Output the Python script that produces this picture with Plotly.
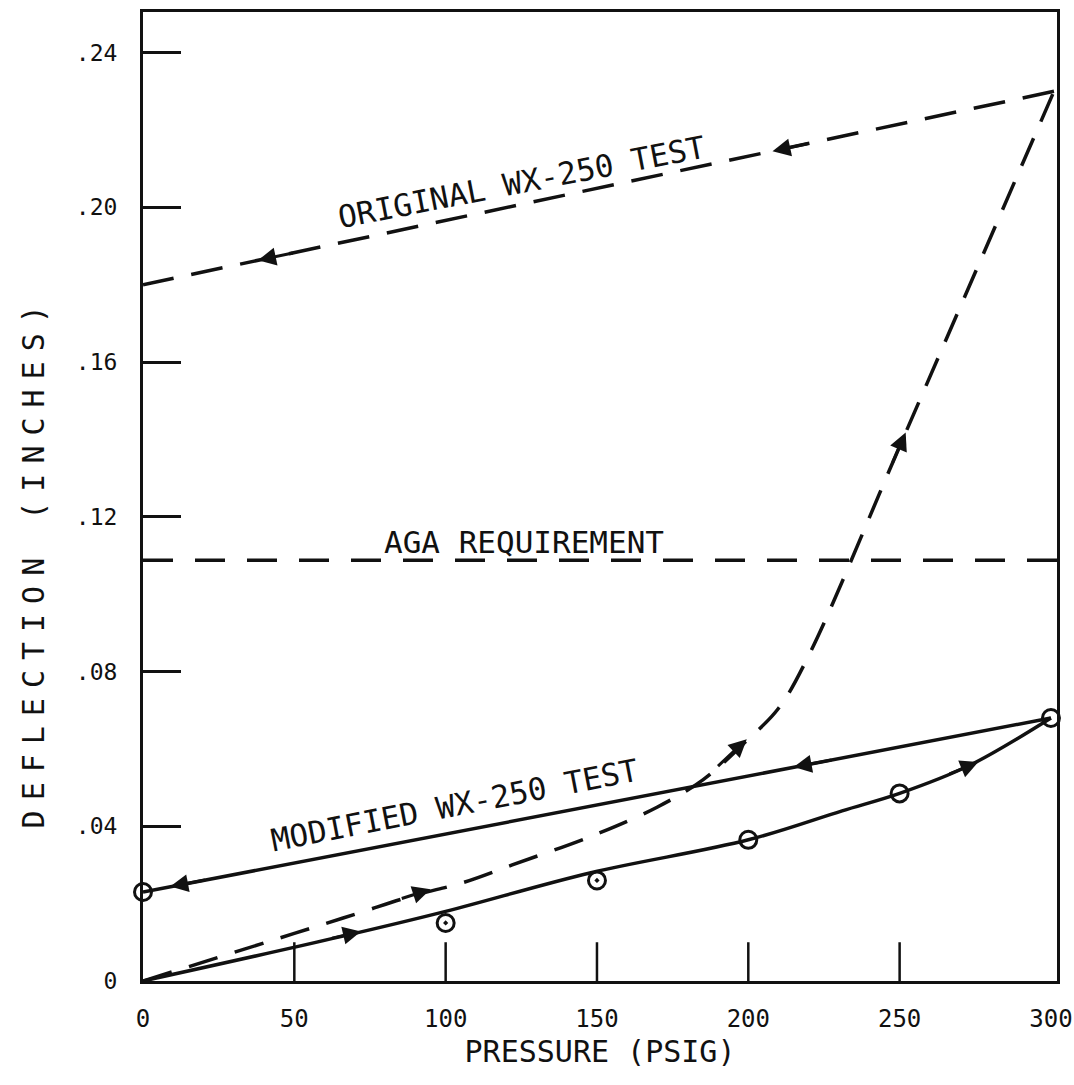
import plotly.graph_objects as go

# ---- data ----
x_ticks = [0, 50, 100, 150, 200, 250, 300]
x_ticklabels = ["0", "50", "100", "150", "200", "250", "300"]
x_tickmarks = [50, 100, 150, 200, 250]
y_ticks = [0, 0.04, 0.08, 0.12, 0.16, 0.20, 0.24]
y_ticklabels = ["0", ".04", ".08", ".12", ".16", ".20", ".24"]

# Original WX-250 test (dashed)
orig_load_x = [0, 50, 71, 89, 106, 122, 150, 170, 185, 200, 210, 220, 251, 301]
orig_load_y = [0, 0.0123, 0.0175, 0.022, 0.0255, 0.030, 0.038, 0.045, 0.052, 0.0625, 0.0705, 0.0842, 0.140, 0.230]
orig_unload_x = [301, 0]
orig_unload_y = [0.230, 0.180]

# AGA requirement (dashed horizontal)
aga_x = [0, 302]
aga_y = [0.1088, 0.1088]

# Modified WX-250 test (solid)
mod_load_x = [0, 65, 100, 148, 200, 231, 250, 273, 300]
mod_load_y = [0, 0.0114, 0.018, 0.028, 0.0365, 0.044, 0.0485, 0.0557, 0.068]
mod_unload_x = [300, 0]
mod_unload_y = [0.068, 0.023]

# measured points (circles)
pts_x = [0, 100, 150, 200, 250, 300]
pts_y = [0.023, 0.015, 0.026, 0.0365, 0.0485, 0.068]
pts_sym = ["circle-open", "circle-open-dot", "circle-open-dot", "circle-open", "circle-open", "circle-open"]

# arrows: tip x, tip y, tail x, tail y
arr_tip_x = [95, 199.5, 252, 208, 38, 72, 276, 215, 9]
arr_tip_y = [0.0237, 0.0625, 0.1418, 0.2145, 0.1863, 0.0128, 0.0566, 0.0553, 0.0244]
arr_tail_x = [85, 189.5, 247.5, 220, 50, 62, 266, 228, 21]
arr_tail_y = [0.0212, 0.0552, 0.1337, 0.2165, 0.1883, 0.0110, 0.0534, 0.0572, 0.0262]

# labels
lbl_text = ["ORIGINAL WX-250 TEST", "AGA REQUIREMENT", "MODIFIED WX-250 TEST"]
lbl_x = [125, 126, 103]
lbl_y = [0.2065, 0.1135, 0.0455]
lbl_angle = [-11, 0, -11]
lbl_size = [31, 31, 31]

y_title = "DEFLECTION (INCHES)"
y_title_pos = 0.1083   # data y at which the rotated title is centred

MONO = "DejaVu Sans Mono"
BLACK = "#111111"

fig = go.Figure()

fig.add_trace(go.Scatter(x=orig_load_x, y=orig_load_y, mode="lines", line_shape="spline",
                         line=dict(color=BLACK, width=3.5, dash="30px,18px"), showlegend=False))
fig.add_trace(go.Scatter(x=orig_unload_x, y=orig_unload_y, mode="lines",
                         line=dict(color=BLACK, width=3.5, dash="32px,18px"), showlegend=False))
fig.add_trace(go.Scatter(x=aga_x, y=aga_y, mode="lines",
                         line=dict(color=BLACK, width=3.5, dash="30px,22px"), showlegend=False))
fig.add_trace(go.Scatter(x=mod_load_x, y=mod_load_y, mode="lines", line_shape="spline",
                         line=dict(color=BLACK, width=3.5), showlegend=False))
fig.add_trace(go.Scatter(x=mod_unload_x, y=mod_unload_y, mode="lines",
                         line=dict(color=BLACK, width=3.5), showlegend=False))
fig.add_trace(go.Scatter(x=pts_x, y=pts_y, mode="markers", cliponaxis=False,
                         marker=dict(symbol=pts_sym, size=17, color=BLACK,
                                     line=dict(color=BLACK, width=3)),
                         showlegend=False))

for tx, ty, sx, sy in zip(arr_tip_x, arr_tip_y, arr_tail_x, arr_tail_y):
    fig.add_annotation(x=tx, y=ty, ax=sx, ay=sy, xref="x", yref="y", axref="x", ayref="y",
                       text="", showarrow=True, arrowhead=2, arrowsize=1.2, arrowwidth=3,
                       arrowcolor=BLACK)

for t, x, y, a, s in zip(lbl_text, lbl_x, lbl_y, lbl_angle, lbl_size):
    fig.add_annotation(x=x, y=y, xref="x", yref="y", text=t, showarrow=False,
                       textangle=a, xanchor="center", yanchor="middle",
                       font=dict(family=MONO, size=s, color=BLACK))

# y-axis title (typewritten, sits a little below the middle of the axis)
fig.add_annotation(x=-0.12, y=y_title_pos, xref="paper", yref="y", text=y_title,
                   showarrow=False, textangle=-90, xanchor="center", yanchor="middle",
                   font=dict(family=MONO, size=30, color=BLACK))

for xv in x_tickmarks:
    fig.add_shape(type="line", xref="x", yref="y domain", x0=xv, x1=xv, y0=0, y1=0.04,
                  line=dict(color=BLACK, width=2.5))

fig.update_layout(
    width=1074, height=1085, autosize=False,
    margin=dict(l=143, r=17, t=12, b=104),
    paper_bgcolor="white", plot_bgcolor="white",
    font=dict(family=MONO, color=BLACK),
)
fig.update_xaxes(range=[0, 302], showgrid=False, zeroline=False, automargin=False,
                 showline=True, linewidth=3, linecolor=BLACK, mirror=True,
                 ticks="", tickvals=x_ticks, ticktext=x_ticklabels,
                 tickfont=dict(family=MONO, size=24, color=BLACK), ticklabelstandoff=14,
                 title=dict(text="PRESSURE (PSIG)", font=dict(family=MONO, size=30, color=BLACK),
                            standoff=10))
fig.update_yaxes(range=[0, 0.2505], showgrid=False, zeroline=False, automargin=False,
                 showline=True, linewidth=3, linecolor=BLACK, mirror=True,
                 ticks="inside", ticklen=38, tickwidth=2.5, tickcolor=BLACK,
                 tickvals=y_ticks, ticktext=y_ticklabels,
                 tickfont=dict(family=MONO, size=23, color=BLACK), ticklabelstandoff=18)

# the typewritten axis title is widely letter-spaced in the reference
post = """
var gd = document.getElementById('{plot_id}');
gd.querySelectorAll('text.annotation-text').forEach(function(t){
  if (t.textContent === 'DEFLECTION (INCHES)') { t.style.letterSpacing = '10px'; }
});
"""
fig.write_html("out.html", post_script=post)
